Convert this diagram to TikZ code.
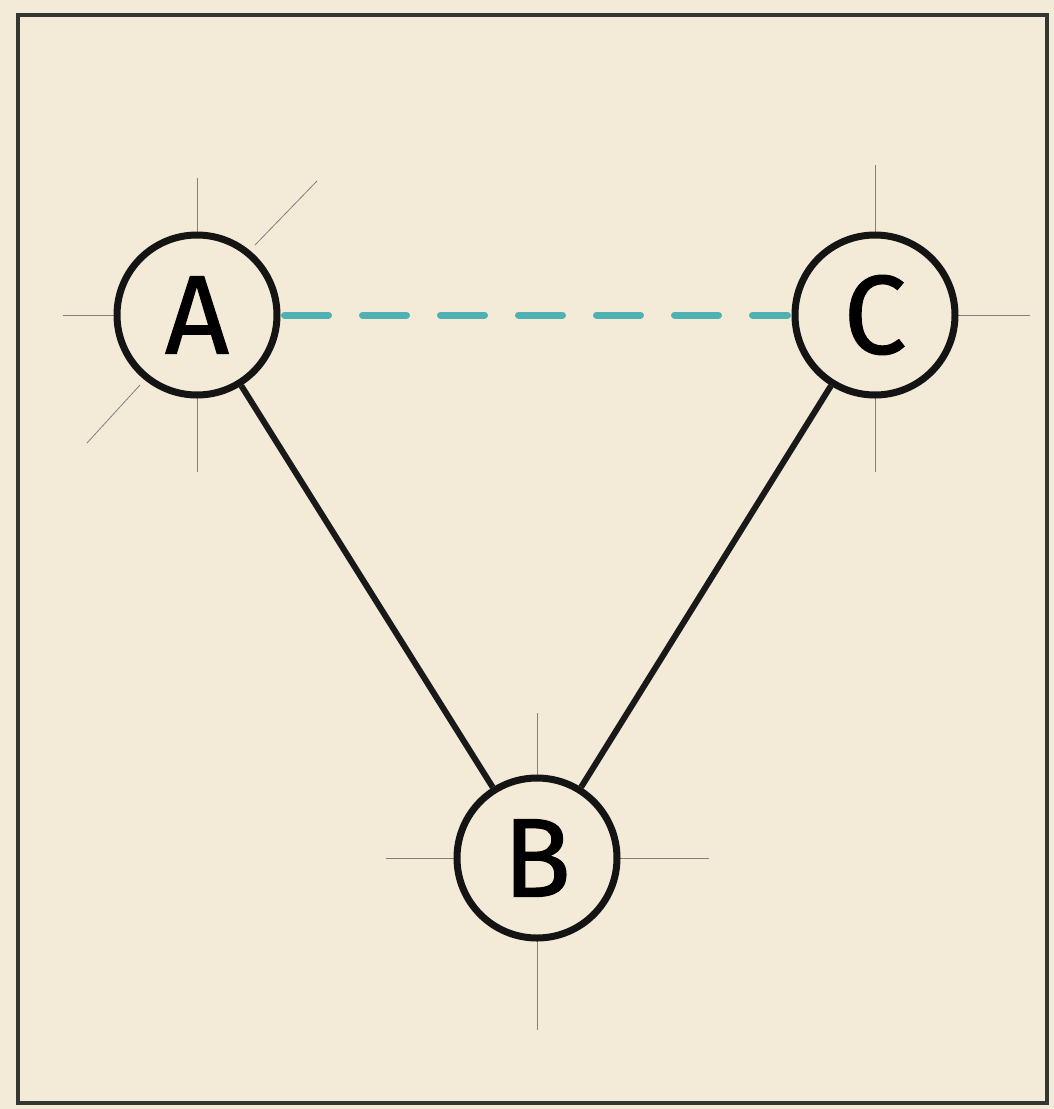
\documentclass[tikz,border=0pt]{standalone}
\usepackage{fontspec}
\setmainfont{Fira Sans}
\newfontfamily\labelfont{Fira Sans}[FakeBold=1.0]
\usetikzlibrary{arrows}

\definecolor{paper}{RGB}{243,235,216}
\definecolor{framegray}{RGB}{52,54,52}
\definecolor{linkteal}{RGB}{78,178,180}

\begin{document}
\begin{tikzpicture}[x=1pt,y=-1pt]
		\tikzstyle{Vertex} = [circle, minimum size=160pt, inner sep=0pt, draw=black!92, line width=7pt, fill=paper, font=\labelfont\fontsize{112}{118}\selectfont]
		\tikzstyle{guide} = [line width=0.8pt, draw=black!50]
		\tikzstyle{edge} = [line width=6pt, draw=black!90]
		\tikzstyle{link} = [line width=7pt, draw=linkteal, dash pattern=on 44pt off 34pt, line cap=round]
		
		% paper and frame
		\fill[paper] (0,0) rectangle (1054,1109);
		\draw[line width=4pt, framegray] (18,15) rectangle (1047,1103);
		
		\coordinate (a) at (197,315);
		\coordinate (c) at (875,315);
		\coordinate (b) at (537,858);
		
		% construction marks
		\draw[guide] (a) ++(0,-137) -- ++(0,294);
		\draw[guide] (a) ++(-134,0) -- ++(134,0);
		\draw[guide] (a) ++(58,-70) -- ++(62,-64);
		\draw[guide] (a) ++(-57,70) -- ++(-53,58);
		\draw[guide] (c) ++(0,-150) -- ++(0,307);
		\draw[guide] (c) ++(0,0) -- ++(155,0);
		\draw[guide] (b) ++(0,-145) -- ++(0,317);
		\draw[guide] (b) ++(-151,0) -- ++(323,0);
		
		\node (A) [Vertex] at (a) {A};
		\node (C) [Vertex] at (c) {C};
		\node (B) [Vertex] at (b) {B};
		
		\draw[edge] (A) -- (B);
		\draw[edge] (C) -- (B);
		\draw[link] ([xshift=4pt]A.east) -- ([xshift=-4pt]C.west);
		\end{tikzpicture}
\end{document}
